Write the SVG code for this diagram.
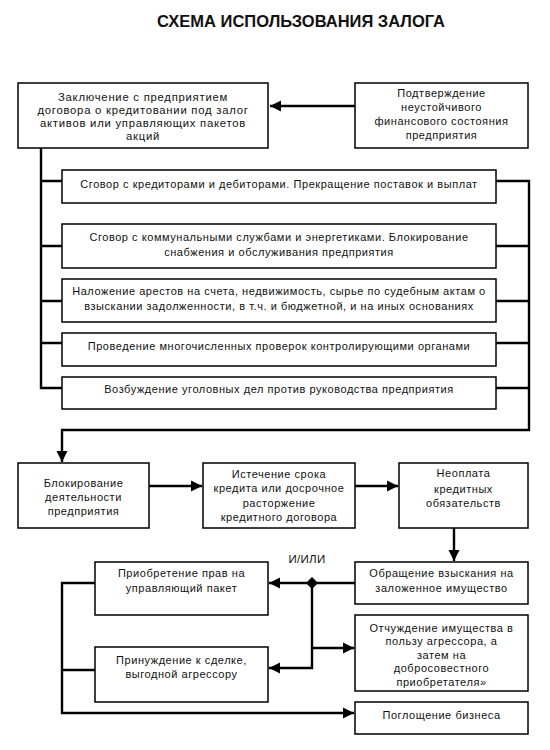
<svg xmlns="http://www.w3.org/2000/svg" width="550" height="750" viewBox="0 0 550 750">
<style>
.b{fill:#fff;stroke:#000;stroke-width:1.5}
.t{font-family:"Liberation Sans",Arial,sans-serif;font-size:11px;letter-spacing:0.55px;text-anchor:middle;fill:#111}
.t2{font-family:"Liberation Sans",Arial,sans-serif;font-size:11.3px;letter-spacing:0.75px;text-anchor:middle;fill:#111}
.c{fill:none;stroke:#000;stroke-width:2.4}
.h{font-family:"Liberation Sans",Arial,sans-serif;font-size:16.5px;font-weight:bold;text-anchor:middle;fill:#111}
</style>
<defs>
<marker id="a" viewBox="0 0 10 10" refX="10" refY="5" markerWidth="4.6" markerHeight="4.6" orient="auto" markerUnits="strokeWidth"><path d="M0,0L10,5L0,10z" fill="#000"/></marker>
</defs>
<rect width="550" height="750" fill="#fff"/>
<text class="h" x="301" y="27">СХЕМА ИСПОЛЬЗОВАНИЯ ЗАЛОГА</text>
<g id="connectors">
<path class="c" d="M355,106H270" marker-end="url(#a)"/>
<path class="c" d="M41,148V388H62M41,181H62M41,246H62M41,301H62M41,343H62"/>
<path class="c" d="M496,246H529M496,301H529M496,343H529M496,388H529"/>
<path class="c" d="M496,181H529V430H62V462" marker-end="url(#a)"/>
<path class="c" d="M149,486H202" marker-end="url(#a)"/>
<path class="c" d="M355,486H398" marker-end="url(#a)"/>
<path class="c" d="M454,528V561" marker-end="url(#a)"/>
<path class="c" d="M355,583H269" marker-end="url(#a)"/>
<path class="c" d="M312,583V668H269" marker-end="url(#a)"/>
<path class="c" d="M312,648H354" marker-end="url(#a)"/>
<path class="c" d="M95,583H62V713H354" marker-end="url(#a)"/>
<path class="c" d="M95,670H62"/>
<path d="M312,577L318,583L312,589L306,583z" fill="#000"/>
<text class="t" x="307" y="563" style="font-size:11.5px;letter-spacing:0.3px">И/ИЛИ</text>
</g>
<g id="n1"><rect class="b" x="18" y="83" width="250" height="65"/>
<text class="t2" x="143" y="101">Заключение с предприятием</text>
<text class="t2" x="143" y="114">договора о кредитовании под залог</text>
<text class="t2" x="143" y="127">активов или управляющих пакетов</text>
<text class="t2" x="143" y="140">акций</text></g>
<g id="n2"><rect class="b" x="355" y="83" width="173" height="65"/>
<text class="t" x="441.5" y="97">Подтверждение</text>
<text class="t" x="441.5" y="111">неустойчивого</text>
<text class="t" x="441.5" y="125">финансового состояния</text>
<text class="t" x="441.5" y="139">предприятия</text></g>
<g id="nA"><rect class="b" x="62" y="170" width="434" height="33"/>
<text class="t" x="279" y="188">Сговор с кредиторами и дебиторами. Прекращение поставок и выплат</text></g>
<g id="nB"><rect class="b" x="62" y="224" width="434" height="44"/>
<text class="t" x="279" y="241">Сговор с коммунальными службами и энергетиками. Блокирование</text>
<text class="t" x="279" y="256">снабжения и обслуживания предприятия</text></g>
<g id="nC"><rect class="b" x="62" y="279" width="434" height="43"/>
<text class="t" x="279" y="295">Наложение арестов на счета, недвижимость, сырье по судебным актам о</text>
<text class="t" x="279" y="310">взыскании задолженности, в т.ч. и бюджетной, и на иных основаниях</text></g>
<g id="nD"><rect class="b" x="62" y="333" width="434" height="33"/>
<text class="t" x="279" y="350">Проведение многочисленных проверок контролирующими органами</text></g>
<g id="nE"><rect class="b" x="62" y="377" width="434" height="32"/>
<text class="t" x="279" y="393">Возбуждение уголовных дел против руководства предприятия</text></g>
<g id="nF"><rect class="b" x="18" y="463" width="131" height="65"/>
<text class="t" x="83.5" y="487">Блокирование</text>
<text class="t" x="83.5" y="501">деятельности</text>
<text class="t" x="83.5" y="515">предприятия</text></g>
<g id="nG"><rect class="b" x="203" y="463" width="152" height="65"/>
<text class="t" x="279" y="478">Истечение срока</text>
<text class="t" x="279" y="492">кредита или досрочное</text>
<text class="t" x="279" y="507">расторжение</text>
<text class="t" x="279" y="521">кредитного договора</text></g>
<g id="nH"><rect class="b" x="399" y="463" width="129" height="65"/>
<text class="t" x="463.5" y="477">Неоплата</text>
<text class="t" x="463.5" y="493">кредитных</text>
<text class="t" x="463.5" y="507">обязательств</text></g>
<g id="nI"><rect class="b" x="355" y="562" width="173" height="42"/>
<text class="t" x="441.5" y="577">Обращение взыскания на</text>
<text class="t" x="441.5" y="592">заложенное имущество</text></g>
<g id="nJ"><rect class="b" x="95" y="562" width="173" height="53"/>
<text class="t" x="181.5" y="577">Приобретение прав на</text>
<text class="t" x="181.5" y="592">управляющий пакет</text></g>
<g id="nK"><rect class="b" x="95" y="647" width="173" height="55"/>
<text class="t" x="181.5" y="664">Принуждение к сделке,</text>
<text class="t" x="181.5" y="678">выгодной агрессору</text></g>
<g id="nL"><rect class="b" x="355" y="615" width="173" height="76"/>
<text class="t" x="441.5" y="632">Отчуждение имущества в</text>
<text class="t" x="441.5" y="645">пользу агрессора, а</text>
<text class="t" x="441.5" y="659">затем на</text>
<text class="t" x="441.5" y="672">добросовестного</text>
<text class="t" x="441.5" y="686">приобретателя»</text></g>
<g id="nM"><rect class="b" x="355" y="702" width="173" height="32"/>
<text class="t" x="441.5" y="719">Поглощение бизнеса</text></g>
</svg>
